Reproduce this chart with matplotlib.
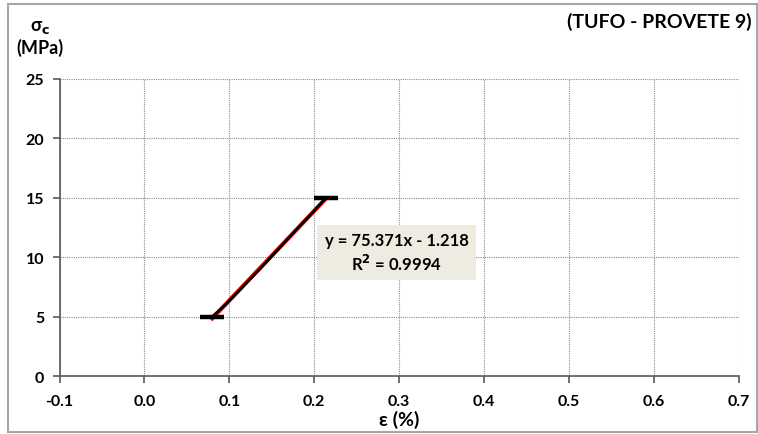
import numpy as np
import matplotlib
matplotlib.use("Agg")
from matplotlib import pyplot as plt
from matplotlib.patches import Rectangle

# strain (%) / stress (MPa)
strain = [0.080, 0.0955, 0.109, 0.1225, 0.136, 0.149, 0.162, 0.175, 0.188, 0.201, 0.214]
stress = [5.0, 6.0, 7.0, 8.0, 9.0, 10.0, 11.0, 12.0, 13.0, 14.0, 15.0]
x_ticks = [-0.1, 0.0, 0.1, 0.2, 0.3, 0.4, 0.5, 0.6, 0.7]
y_ticks = [0, 5, 10, 15, 20, 25]
fit_label = "y = 75.371x - 1.218\nR$^2$ = 0.9994"

plt.rcParams["font.family"] = ["Lato", "DejaVu Sans"]
plt.rcParams["font.weight"] = "bold"

fig = plt.figure(figsize=(7.58, 4.35), dpi=100)
ax = fig.add_axes([0.0785, 0.1333, 0.8958, 0.6828])

# outer frame of the chart
fig.patches.append(Rectangle((8/758, 2/435), 749/758, 428/435, transform=fig.transFigure,
                             fill=False, ec="#a6a6a6", lw=1.5))

xs = np.array(strain)
p = np.polyfit(xs, stress, 1)
xf = np.array([xs.min(), xs.max()])
ax.plot(xf, np.polyval(p, xf), color="red", lw=3.0, zorder=3)
ax.plot(strain, stress, color="black", lw=1.9, zorder=4,
        marker="_", markersize=17.5, markeredgewidth=3.2, markevery=[0, -1])

ax.text(0.297, 10.4, fit_label, ha="center", va="center", fontsize=12, fontweight="bold",
        linespacing=1.25, zorder=5,
        bbox=dict(boxstyle="square,pad=0.45", fc="#eeece1", ec="none"))

ax.set_xlim(-0.1, 0.7)
ax.set_ylim(0, 25)
ax.set_xticks(x_ticks)
ax.set_yticks(y_ticks)
ax.set_xticklabels(["%.1f" % v for v in x_ticks])
ax.grid(True, color="#8c8c8c", linestyle=(0, (1, 1)), lw=0.8)
for s in ["top", "right"]:
    ax.spines[s].set_visible(False)
for s in ["left", "bottom"]:
    ax.spines[s].set_color("#595959")
    ax.spines[s].set_linewidth(1.2)
ax.tick_params(axis="both", colors="#595959", labelcolor="black", labelsize=11.5, length=5, width=1.2)
ax.tick_params(axis="x", pad=8)
ax.tick_params(axis="y", pad=6)

ax.set_xlabel("ε (%)", fontsize=14, fontweight="bold", labelpad=1)
fig.text(40/758, 1-28/435, "σ$_\\mathbf{c}$", ha="center", va="center", fontsize=13, fontweight="bold")
fig.text(40/758, 1-48/435, "(MPa)", ha="center", va="center", fontsize=13, fontweight="bold")
fig.text(752/758, 1-22/435, "(TUFO - PROVETE 9)", ha="right", va="center", fontsize=14, fontweight="bold")

fig.savefig("out.png", dpi=100)
